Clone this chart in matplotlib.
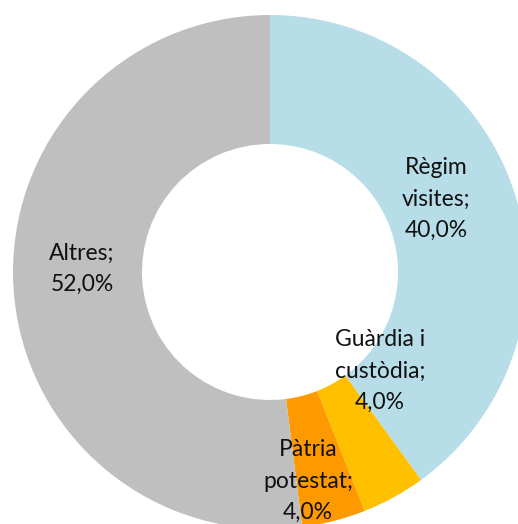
import matplotlib.pyplot as plt

labels = ["Règim\nvisites;\n40,0%", "Guàrdia i\ncustòdia;\n4,0%", "Pàtria\npotestat;\n4,0%", "Altres;\n52,0%"]
values = [40.0, 4.0, 4.0, 52.0]
colors = ["#B7DDE8", "#FFC000", "#FF9900", "#BFBFBF"]
# label centres, pixel offsets from the donut centre
label_pos = [(166, 73), (110, -99), (38, -209), (-188, 3)]

fig = plt.figure(figsize=(5.18, 5.24), dpi=100)
ax = fig.add_axes([0, 0, 1, 1])
ax.pie(values, colors=colors, startangle=90, counterclock=False,
       radius=257, wedgeprops=dict(width=129, linewidth=0), center=(0, 0))
for lab, (x, y) in zip(labels, label_pos):
    ax.text(x, y, lab, ha="center", va="center", fontsize=16.5,
            family="Lato", linespacing=1.6, color="#111111")
ax.set_xlim(-270, 248)
ax.set_ylim(-252, 272)
ax.set_aspect("equal")
ax.axis("off")
fig.savefig("out.png", dpi=100)
